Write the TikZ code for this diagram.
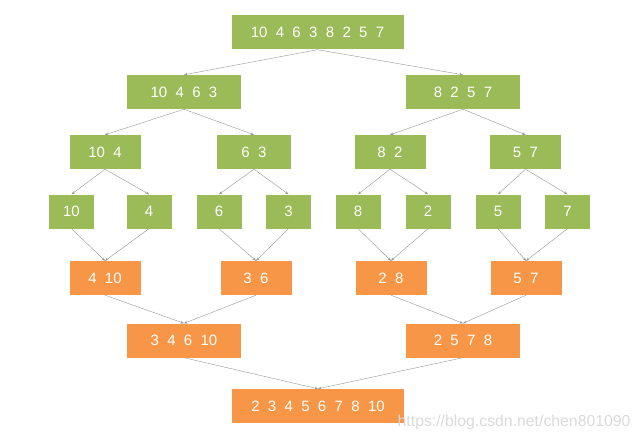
\documentclass[tikz,border=0pt]{standalone}
\usepackage{fontspec}
\setmainfont{Liberation Sans}
\usetikzlibrary{arrows.meta}
\definecolor{splitgreen}{RGB}{155,187,89}
\definecolor{mergeorange}{RGB}{247,150,70}
\definecolor{linegray}{RGB}{150,150,150}
\definecolor{markgray}{RGB}{218,218,218}
\begin{document}
\begin{tikzpicture}[x=1pt,y=-1pt,
	cell/.style={minimum height=34pt,inner sep=0pt,text=white,font=\fontsize{15}{18}\selectfont},
	splitcell/.style={cell,fill=splitgreen},
	mergecell/.style={cell,fill=mergeorange},
	link/.style={draw=linegray,line width=0.4pt,-{Stealth[length=3.5pt,width=2.6pt]}}]
			\useasboundingbox (0,0) rectangle (640,441);
			%Splitting (green rows)
			%row0
			\coordinate (center00) at (317.5,32.5);
			\node [splitcell,minimum width=172pt] (s00) at (center00) {10~~4~~6~~3~~8~~2~~5~~7};
			%row1
			\coordinate (center10) at (184,92);
			\coordinate (center11) at (463,92);
			\node [splitcell,minimum width=114pt] (s10) at (center10) {10~~4~~6~~3};
			\node [splitcell,minimum width=114pt] (s11) at (center11) {8~~2~~5~~7};
			%row2
			\coordinate (center20) at (105,152);
			\coordinate (center21) at (254,152);
			\coordinate (center22) at (390,152);
			\coordinate (center23) at (525.5,152);
			\node [splitcell,minimum width=71pt] (s20) at (center20) {10~~4};
			\node [splitcell,minimum width=74pt] (s21) at (center21) {6~~3};
			\node [splitcell,minimum width=71pt] (s22) at (center22) {8~~2};
			\node [splitcell,minimum width=71pt] (s23) at (center23) {5~~7};
			%row3, single numbers
			\foreach \x/\v [count=\i from 0] in {71.5/10,149/4,219/6,288.5/3,358/8,428/2,498/5,567.5/7} {
				\node [splitcell,minimum width=45pt] (s3\i) at (\x,211.5) {\v};
			}
			%Merging (orange rows)
			%row4
			\coordinate (center40) at (105,278);
			\coordinate (center41) at (256,278);
			\coordinate (center42) at (391,278);
			\coordinate (center43) at (526,278);
			\node [mergecell,minimum width=71pt] (m40) at (center40) {4~~10};
			\node [mergecell,minimum width=71pt] (m41) at (center41) {3~~6};
			\node [mergecell,minimum width=71pt] (m42) at (center42) {2~~8};
			\node [mergecell,minimum width=71pt] (m43) at (center43) {5~~7};
			%row5
			\coordinate (center50) at (184,340.5);
			\coordinate (center51) at (463,340.5);
			\node [mergecell,minimum width=114pt] (m50) at (center50) {3~~4~~6~~10};
			\node [mergecell,minimum width=114pt] (m51) at (center51) {2~~5~~7~~8};
			%row6
			\coordinate (center60) at (318,406);
			\node [mergecell,minimum width=172pt] (m60) at (center60) {2~~3~~4~~5~~6~~7~~8~~10};
			%Arrows for splitting
			\draw [link] (s00.south) -- (s10.north);
			\draw [link] (s00.south) -- (s11.north);
			\draw [link] (s10.south) -- (s20.north);
			\draw [link] (s10.south) -- (s21.north);
			\draw [link] (s11.south) -- (s22.north);
			\draw [link] (s11.south) -- (s23.north);
			\draw [link] (s20.south) -- (s30.north);
			\draw [link] (s20.south) -- (s31.north);
			\draw [link] (s21.south) -- (s32.north);
			\draw [link] (s21.south) -- (s33.north);
			\draw [link] (s22.south) -- (s34.north);
			\draw [link] (s22.south) -- (s35.north);
			\draw [link] (s23.south) -- (s36.north);
			\draw [link] (s23.south) -- (s37.north);
			%Arrows for merging
			\draw [link] (s30.south) -- (m40.north);
			\draw [link] (s31.south) -- (m40.north);
			\draw [link] (s32.south) -- (m41.north);
			\draw [link] (s33.south) -- (m41.north);
			\draw [link] (s34.south) -- (m42.north);
			\draw [link] (s35.south) -- (m42.north);
			\draw [link] (s36.south) -- (m43.north);
			\draw [link] (s37.south) -- (m43.north);
			\draw [link] (m40.south) -- (m50.north);
			\draw [link] (m41.south) -- (m50.north);
			\draw [link] (m42.south) -- (m51.north);
			\draw [link] (m43.south) -- (m51.north);
			\draw [link] (m50.south) -- (m60.north);
			\draw [link] (m51.south) -- (m60.north);
			%The watermark
			\node [anchor=base west,inner sep=0pt,text=markgray,font=\fontsize{15.8}{18}\selectfont] (watermark) at (397.5,426.5) {https://blog.csdn.net/chen801090};
\end{tikzpicture}
\end{document}
